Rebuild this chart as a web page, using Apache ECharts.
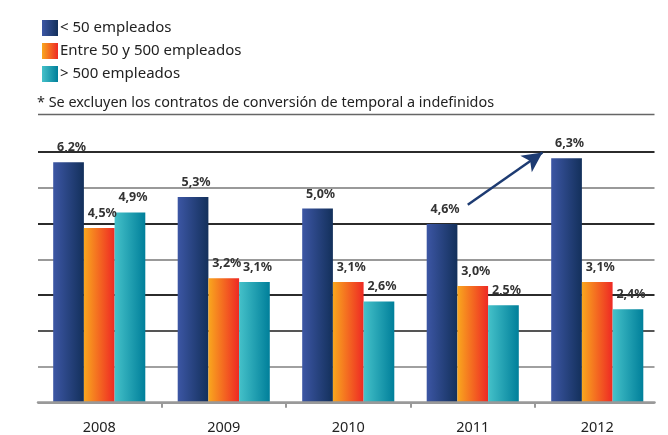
<!DOCTYPE html>
<html>
<head>
<meta charset="utf-8">
<script src="https://cdn.jsdelivr.net/npm/echarts@6/dist/echarts.min.js"></script>
<style>
html,body{margin:0;padding:0;background:#fff;}
#chart{width:668px;height:435px;}
</style>
</head>
<body>
<div id="chart"></div>
<script>
// ---- data ----
const categories = ['2008', '2009', '2010', '2011', '2012'];
const seriesNames = ['< 50 empleados', 'Entre 50 y 500 empleados', '> 500 empleados'];
const small = [6.2, 5.3, 5.0, 4.6, 6.3];
const medium = [4.5, 3.2, 3.1, 3.0, 3.1];
const large = [4.9, 3.1, 2.6, 2.5, 2.4];
const noteText = '* Se excluyen los contratos de conversión de temporal a indefinidos';
// arrow annotation (data space: category position, value)
const arrowFrom = [2.96, 5.1];
const arrowTo = [3.56, 6.45];

const FONT = '"Noto Sans", sans-serif';
const yMax = 6.47;
const yInterval = yMax / 7;

function grad(c1, c2) {
  return new echarts.graphic.LinearGradient(0, 0, 1, 0, [
    { offset: 0, color: c1 }, { offset: 1, color: c2 }
  ]);
}
const colors = [
  grad('#3c56a4', '#13305b'),
  grad('#f9a71e', '#ee2924'),
  grad('#45c1c9', '#007f9a')
];

const chart = echarts.init(document.getElementById('chart'), null, { renderer: 'canvas' });

const labelCfg = {
  show: true,
  position: 'top',
  distance: 8,
  offset: [3, 0],
  color: '#333',
  fontFamily: FONT,
  fontWeight: 'bold',
  fontSize: 12.5,
  formatter: p => p.value.toFixed(1).replace('.', ',') + '%'
};

const values = [small, medium, large];
const series = values.map((vals, i) => ({
  name: seriesNames[i],
  type: 'bar',
  xAxisIndex: 0,
  yAxisIndex: 0,
  data: vals,
  barWidth: 30.7,
  barGap: '0%',
  itemStyle: { color: colors[i] },
  label: labelCfg,
  z: 3
}));

// arrow annotation on a continuous x axis that spans the same categories
series.push({
  name: 'arrow',
  type: 'line',
  xAxisIndex: 3,
  yAxisIndex: 0,
  data: [arrowFrom, arrowTo],
  showSymbol: false,
  silent: true,
  lineStyle: { opacity: 0 },
  markLine: {
    silent: true,
    symbol: ['none', 'arrow'],
    symbolSize: [15, 20],
    label: { show: false },
    lineStyle: { color: '#1d3b72', width: 2.5, type: 'solid' },
    data: [[{ coord: arrowFrom }, { coord: arrowTo }]]
  },
  z: 5
});

const option = {
  backgroundColor: '#fff',
  animation: false,
  legend: {
    orient: 'vertical',
    left: 37,
    top: 15,
    itemWidth: 16,
    itemHeight: 16,
    itemGap: 7,
    icon: 'rect',
    textStyle: { color: '#222', fontFamily: FONT, fontSize: 15, padding: [0, 0, 0, -3] },
    data: seriesNames
  },
  graphic: [
    {
      type: 'text',
      left: 37,
      top: 96,
      style: { text: noteText, fill: '#222', font: '14.4px ' + FONT }
    },
    {
      type: 'line',
      shape: { x1: 38, y1: 114.5, x2: 654.5, y2: 114.5 },
      style: { stroke: '#666', lineWidth: 1.5 }
    }
  ],
  grid: [
    { left: 37, right: 8.5, top: 151.7, bottom: 32.3 },
    { left: 38, right: 13.5, top: 151.7, bottom: 32.3 },
    { left: 161.5, width: 373.5, top: 151.7, bottom: 32.3 }
  ],
  xAxis: [
    {
      type: 'category', gridIndex: 0, data: categories,
      axisLine: { show: false }, axisTick: { show: false },
      axisLabel: { color: '#222', fontFamily: FONT, fontSize: 14.5, margin: 18 }
    },
    {
      type: 'category', gridIndex: 1, data: categories,
      axisLine: { show: true, lineStyle: { color: '#999', width: 2.5 } },
      axisTick: { show: false }, axisLabel: { show: false }, z: 4
    },
    {
      type: 'category', gridIndex: 2, data: ['a', 'b', 'c', 'd'], boundaryGap: false,
      axisLine: { show: false },
      axisTick: { show: true, length: 5, lineStyle: { color: '#999', width: 2 } },
      axisLabel: { show: false }
    },
    {
      type: 'value', gridIndex: 0, min: -0.5, max: 4.5, show: false, position: 'top'
    }
  ],
  yAxis: [
    { type: 'value', gridIndex: 0, min: 0, max: yMax, interval: yInterval, show: false, splitLine: { show: false } },
    {
      type: 'value', gridIndex: 1, min: 0, max: yMax, interval: yInterval,
      axisLine: { show: false }, axisTick: { show: false }, axisLabel: { show: false },
      splitLine: {
        show: true,
        lineStyle: {
          color: ['#999', '#a0a0a0', '#555', '#2b2b2b', '#999', '#2b2b2b', '#999', '#2b2b2b'],
          width: 2
        }
      }
    },
    { type: 'value', gridIndex: 2, min: 0, max: yMax, show: false }
  ],
  series: series
};

chart.setOption(option);
</script>
</body>
</html>
